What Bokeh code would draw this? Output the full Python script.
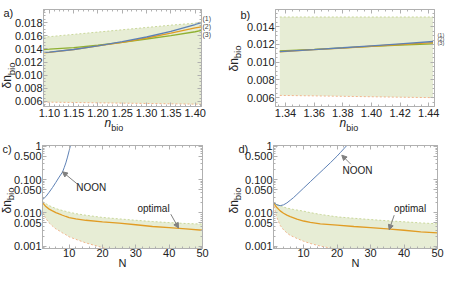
import math
from bokeh.plotting import figure
from bokeh.models import (Range1d, LinearAxis, LogAxis, SingleIntervalTicker, FixedTicker,
                          NumeralTickFormatter, CustomJSTickFormatter, Label, Arrow, NormalHead,
                          Title)
from bokeh.layouts import column, row
from bokeh.embed import file_html
from bokeh.resources import INLINE

# ---------------- data ----------------
# panel a
a_n      = [1.088, 1.10, 1.15, 1.20, 1.25, 1.30, 1.35, 1.40, 1.413]
a_blue   = [0.01345, 0.0135, 0.0139, 0.01445, 0.0151, 0.0158, 0.01665, 0.0177, 0.0180]
a_orange = [0.0134, 0.01345, 0.0139, 0.01445, 0.0150, 0.01565, 0.0164, 0.0172, 0.01735]
a_green  = [0.0139, 0.01395, 0.0142, 0.01455, 0.0150, 0.0155, 0.0160, 0.0166, 0.0168]
a_upper  = [0.0158, 0.01585, 0.0162, 0.01655, 0.0169, 0.01725, 0.0176, 0.0179, 0.0181]
a_lower  = [0.0059, 0.0059, 0.00585, 0.0058, 0.00575, 0.0057, 0.00565, 0.0056, 0.0056]

# panel b
b_n      = [1.336, 1.36, 1.38, 1.40, 1.42, 1.443]
b_blue   = [0.01120, 0.01143, 0.01163, 0.01185, 0.01207, 0.01234]
b_orange = [0.01118, 0.01141, 0.01160, 0.01180, 0.01200, 0.01222]
b_green  = [0.01128, 0.01146, 0.01162, 0.01178, 0.01193, 0.01208]
b_upper  = [0.0151, 0.0151, 0.0151, 0.0151, 0.0151, 0.0151]
b_lower  = [0.00625, 0.0062, 0.00615, 0.0061, 0.00605, 0.0060]

# panel c
c_N      = [2, 3, 4, 5, 6, 7, 8, 9, 10, 12, 15, 20, 25, 30, 35, 40, 45, 50]
c_opt    = [0.0205, 0.0155, 0.013, 0.0115, 0.0102, 0.0093, 0.0085, 0.0078, 0.0072, 0.0066,
            0.0060, 0.0054, 0.0049, 0.0044, 0.0039, 0.0036, 0.0033, 0.0030]
c_upper  = [0.022, 0.019, 0.0165, 0.015, 0.0135, 0.0126, 0.0118, 0.0111, 0.0105, 0.0095,
            0.0085, 0.0073, 0.0066, 0.0060, 0.0055, 0.0051, 0.0048, 0.0046]
c_lower  = [0.0103, 0.0068, 0.0050, 0.0040, 0.0033, 0.0029, 0.0025, 0.0022, 0.0019, 0.0016,
            0.00125, 0.0009, 0.0007, 0.00055, 0.00048, 0.0004, 0.00035, 0.0003]
c_noon_N = [2, 3, 4, 5, 6, 7, 8, 8.5, 9, 9.5, 10, 10.5]
c_noon   = [0.025, 0.031, 0.042, 0.058, 0.083, 0.12, 0.17, 0.23, 0.32, 0.48, 0.75, 1.2]

# panel d
d_N      = [1, 1.5, 2, 3, 4, 5, 6, 7, 8, 10, 12, 15, 20, 25, 30, 35, 40, 45, 50]
d_opt    = [0.021, 0.017, 0.0145, 0.0115, 0.0098, 0.0086, 0.0077, 0.0071, 0.0065, 0.0057,
            0.0052, 0.0047, 0.0043, 0.0039, 0.0036, 0.0033, 0.0030, 0.0027, 0.0025]
d_upper  = [0.021, 0.0195, 0.018, 0.0165, 0.015, 0.014, 0.0133, 0.0127, 0.0122, 0.0113,
            0.0102, 0.0090, 0.0076, 0.0069, 0.0063, 0.0058, 0.0054, 0.0050, 0.0047]
d_lower  = [0.021, 0.011, 0.0072, 0.0042, 0.0031, 0.0025, 0.0021, 0.0019, 0.0017, 0.0014,
            0.0012, 0.0010, 0.0008, 0.00068, 0.0006, 0.00054, 0.00048, 0.00044, 0.0004]
d_noon_N = [1, 2, 3, 4, 5, 6, 7, 8, 10, 12, 14, 16, 18, 20, 21, 22, 23, 23.5]
d_noon   = [0.021, 0.0175, 0.0165, 0.0175, 0.020, 0.024, 0.029, 0.036, 0.056, 0.087, 0.135,
            0.209, 0.324, 0.513, 0.661, 0.851, 1.10, 1.25]

log_ticks = [0.001, 0.005, 0.01, 0.05, 0.1, 0.5, 1]
curve_tags = ["(3)", "(2)", "(1)"]          # bottom to top

# ---------------- style ----------------
BLUE = "#5E81B5"; ORANGE = "#E19C24"; GREEN = "#8FB032"
FILL = "#E7EDD5"; UPC = "#C9D79A"; LOC = "#F2B48C"
AX = "#B0B0B0"; TXT = "#222222"; FONT = "Liberation Sans"; GRAY = "#808080"

LOG_RANGE = (10 ** -3.072, 10 ** 0.030)


def make_fig(origin, w, h, bl, br, bt, bb, xr, yr, log=False):
    p = figure(width=w, height=h, x_range=Range1d(*xr), y_range=Range1d(*yr),
               y_axis_type="log" if log else "linear", output_backend="svg",
               toolbar_location=None, min_border_left=bl, min_border_right=br,
               min_border_top=bt, min_border_bottom=bb)
    p.grid.visible = False
    p.outline_line_color = AX
    p.background_fill_color = "white"
    p.border_fill_color = "white"
    geo = (origin[0] + bl, origin[1] + bt, w - bl - br, h - bt - bb, xr, yr, log)
    return p, geo


def P(geo, px, py):
    left, top, w, h, xr, yr, log = geo
    x = xr[0] + (px - left) / w * (xr[1] - xr[0])
    if log:
        l0, l1 = math.log10(yr[0]), math.log10(yr[1])
        y = 10 ** (l1 - (py - top) / h * (l1 - l0))
    else:
        y = yr[1] - (py - top) / h * (yr[1] - yr[0])
    return x, y


def style_axes(p, xticker, yticker, xfmt, yfmt, log, xstandoff=2):
    p.xaxis.ticker = xticker
    p.xaxis.formatter = xfmt
    p.yaxis.ticker = yticker
    p.yaxis.formatter = yfmt
    blank = CustomJSTickFormatter(code="return ''")
    top = LinearAxis(ticker=xticker, formatter=blank)
    right = (LogAxis if log else LinearAxis)(ticker=yticker, formatter=blank)
    p.add_layout(top, "above")
    p.add_layout(right, "right")
    for ax in list(p.xaxis) + list(p.yaxis):
        ax.axis_line_color = AX
        ax.major_tick_line_color = AX
        ax.minor_tick_line_color = AX
        ax.major_tick_in = 4
        ax.major_tick_out = 0
        ax.minor_tick_in = 2
        ax.minor_tick_out = 0
        ax.major_label_text_font = FONT
        ax.major_label_text_font_size = "11px"
        ax.major_label_text_color = TXT
        ax.major_label_standoff = 1
    p.below[0].major_label_standoff = xstandoff
    for ax in (top, right):
        ax.major_label_text_font_size = "1px"
        ax.major_label_standoff = 0


def title(p, side, s, size, align="left", valign="bottom", offset=0, standoff=0,
          style="normal"):
    p.add_layout(Title(text=s, text_font=FONT, text_font_size=size, text_color=TXT,
                       text_font_style=style, align=align, vertical_align=valign,
                       offset=offset, standoff=standoff), side)


def ylabel(p, off_d, st_bio, st_d):
    # inner panel: subscript, outer panel: delta n (rotated, read upwards)
    title(p, "left", "bio", "9.5px", offset=off_d + 13.3, standoff=st_bio)
    title(p, "left", "δn", "12px", offset=off_d, standoff=st_d)


def xlabel_n(p, off):
    title(p, "below", "n", "12px", valign="top", offset=off, standoff=-8,
          style="italic")
    title(p, "below", "bio", "9px", valign="top", offset=off + 6.7, standoff=-10)


def tags(p, geo, pys, px, size, standoff):
    ys = [P(geo, px, py)[1] for py in pys]
    ax = LinearAxis(ticker=FixedTicker(ticks=ys, minor_ticks=[]),
                    formatter=CustomJSTickFormatter(args=dict(labels=curve_tags),
                                                    code="return labels[index];"))
    ax.axis_line_color = None
    ax.major_tick_line_color = None
    ax.minor_tick_line_color = None
    ax.major_tick_in = 0
    ax.major_tick_out = 0
    ax.major_label_standoff = standoff
    ax.major_label_text_font = FONT
    ax.major_label_text_font_size = size
    ax.major_label_text_color = "#444444"
    p.add_layout(ax, "right")


def dtext(p, geo, px, py, s, size="10px"):
    x, y = P(geo, px, py)
    p.add_layout(Label(x=x, y=y, text=s, text_font=FONT, text_font_size=size,
                       text_color=TXT, text_align="center", text_baseline="middle"))


def arrow(p, geo, p0, p1):
    x0, y0 = P(geo, *p0)
    x1, y1 = P(geo, *p1)
    p.add_layout(Arrow(x_start=x0, y_start=y0, x_end=x1, y_end=y1, line_color=GRAY,
                       line_width=1,
                       end=NormalHead(size=5, fill_color=GRAY, line_color=GRAY)))


def band(p, x, lo, up):
    p.varea(x=x, y1=lo, y2=up, fill_color=FILL)
    p.line(x, up, line_color=UPC, line_dash="2 2", line_width=1)
    p.line(x, lo, line_color=LOC, line_dash="2 2", line_width=1)


log_minor = [k * 10.0 ** e for e in range(-4, 1) for k in range(1, 10)]
log_fmt = CustomJSTickFormatter(code="return tick >= 1 ? '1' : tick.toFixed(3);")

# ---------------- panel a ----------------
pa, ga = make_fig((8, 8), 223, 138, 43, 22, 9, 32, (1.088, 1.413), (0.00524, 0.01998))
style_axes(pa, SingleIntervalTicker(interval=0.05, num_minor_ticks=5),
           SingleIntervalTicker(interval=0.002, num_minor_ticks=4),
           NumeralTickFormatter(format="0.00"), NumeralTickFormatter(format="0.000"), False)
band(pa, a_n, a_lower, a_upper)
pa.line(a_n, a_green, line_color=GREEN, line_width=1.3)
pa.line(a_n, a_orange, line_color=ORANGE, line_width=1.3)
pa.line(a_n, a_blue, line_color=BLUE, line_width=1.3)
tags(pa, ga, [41.7, 34, 25.7], 210, "7px", 1)
title(pa, "above", "a)", "11px", offset=-40, standoff=-18)
ylabel(pa, 18, -11, -9)
xlabel_n(pa, 61)

# ---------------- panel b ----------------
pb, gb = make_fig((231, 8), 224, 138, 52, 12, 7, 32, (1.333, 1.444), (0.0050, 0.01595))
style_axes(pb, SingleIntervalTicker(interval=0.02, num_minor_ticks=4),
           SingleIntervalTicker(interval=0.002, num_minor_ticks=4),
           NumeralTickFormatter(format="0.00"), NumeralTickFormatter(format="0.000"), False)
band(pb, b_n, b_lower, b_upper)
pb.line(b_n, b_green, line_color=GREEN, line_width=1.3)
pb.line(b_n, b_orange, line_color=ORANGE, line_width=1.3)
pb.line(b_n, b_blue, line_color=BLUE, line_width=1.3)
tags(pb, gb, [49.3, 45.3, 41.3], 447, "5.5px", 3)
title(pb, "above", "b)", "11px", offset=-35, standoff=-22)
ylabel(pb, 35, 2, -24)
xlabel_n(pb, 64)

# ---------------- panel c ----------------
pc, gc = make_fig((8, 146), 223, 131, 42, 21, 7, 21, (2, 50), LOG_RANGE, log=True)
style_axes(pc, SingleIntervalTicker(interval=10, num_minor_ticks=5),
           FixedTicker(ticks=log_ticks, minor_ticks=log_minor),
           NumeralTickFormatter(format="0"), log_fmt, True, xstandoff=0)
band(pc, c_N, c_lower, c_upper)
pc.line(c_N, c_opt, line_color=ORANGE, line_width=1.3)
pc.line(c_noon_N, c_noon, line_color=BLUE, line_width=1.0)
title(pc, "above", "c)", "11px", offset=-40, standoff=-18)
ylabel(pc, 35, -11, -11)
title(pc, "below", "N", "11px", align="center", valign="bottom", standoff=-9)
dtext(pc, gc, 98.7, 195, "NOON")
arrow(pc, gc, (85, 191.7), (70, 179.3))
dtext(pc, gc, 161, 216, "optimal")
arrow(pc, gc, (178.3, 221.7), (186, 235.5))

# ---------------- panel d ----------------
pd, gd = make_fig((231, 146), 224, 131, 50, 10, 7, 21, (1, 50), LOG_RANGE, log=True)
style_axes(pd, SingleIntervalTicker(interval=10, num_minor_ticks=5),
           FixedTicker(ticks=log_ticks, minor_ticks=log_minor),
           NumeralTickFormatter(format="0"), log_fmt, True, xstandoff=0)
band(pd, d_N, d_lower, d_upper)
pd.line(d_N, d_opt, line_color=ORANGE, line_width=1.3)
pd.line(d_noon_N, d_noon, line_color=BLUE, line_width=1.0)
title(pd, "above", "d)", "11px", offset=-35, standoff=-18)
ylabel(pd, 35, -3, -18)
title(pd, "below", "N", "11px", align="center", valign="bottom", standoff=-9)
dtext(pd, gd, 365, 178, "NOON")
arrow(pd, gd, (358.3, 171.7), (349.3, 162.7))
dtext(pd, gd, 417.5, 216, "optimal")
arrow(pd, gd, (401.7, 222.7), (396.7, 237.3))

layout = column(row(pa, pb), row(pc, pd))
open("out.html", "w").write(file_html(layout, INLINE))
